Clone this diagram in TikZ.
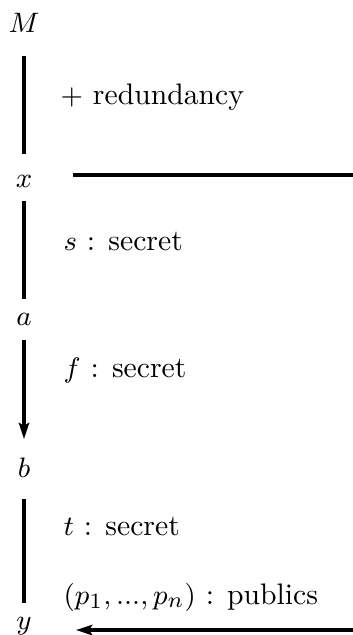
\documentclass[tikz,border=0pt]{standalone}
\usetikzlibrary{positioning,calc,arrows.meta}

\begin{document}
\begin{tikzpicture}
		[x=0.32pt, y=-0.32pt,
		 every node/.style={font=\fontsize{9.5}{11}\selectfont},
		 stage/.style={anchor=base, inner sep=0pt},
		 note/.style={anchor=base west, inner sep=0pt},
		 wire/.style={line width=1.1pt},
		 tip/.style={-{Stealth[length=5.2pt,width=3.3pt,inset=1pt]}}]
		\useasboundingbox (0,0) rectangle (353,635);
		\node[stage] (M) at (24,32) {$M$};
		\node[stage] (x) at (24,187) {$x$};
		\node[stage] (a) at (24,325) {$a$};
		\node[stage] (b) at (24,477) {$b$};
		\node[stage] (y) at (24,629) {$y$};
		\coordinate (xr) at (353,175);
		\coordinate (yr) at (353,630);

		\draw[wire, shorten <=7.4pt, shorten >=6.6pt] (M) -- (x);
		\draw[wire, shorten <=4.2pt, shorten >=4.2pt] (x) -- (a);
		\draw[wire, tip, shorten <=4.5pt, shorten >=5.7pt] (a) -- (b);
		\draw[wire, shorten <=6.7pt, shorten >=4.2pt] (b) -- (y);
		\draw[wire, shorten <=12.9pt] (x.east |- xr) -- (xr);
		\draw[wire, tip, shorten >=14pt] (yr) -- (y.east |- yr);

		\node[note] (red) at (60,104) {$+$ redundancy};
		\node[note] (sec1) at (63,250) {$s$ : secret};
		\node[note] (sec2) at (63,377) {$f$ : secret};
		\node[note] (sec3) at (63,535) {$t$ : secret};
		\node[note] (pub) at (63,604) {$(p_1,...,p_n)$ : publics};
	\end{tikzpicture}
\end{document}
